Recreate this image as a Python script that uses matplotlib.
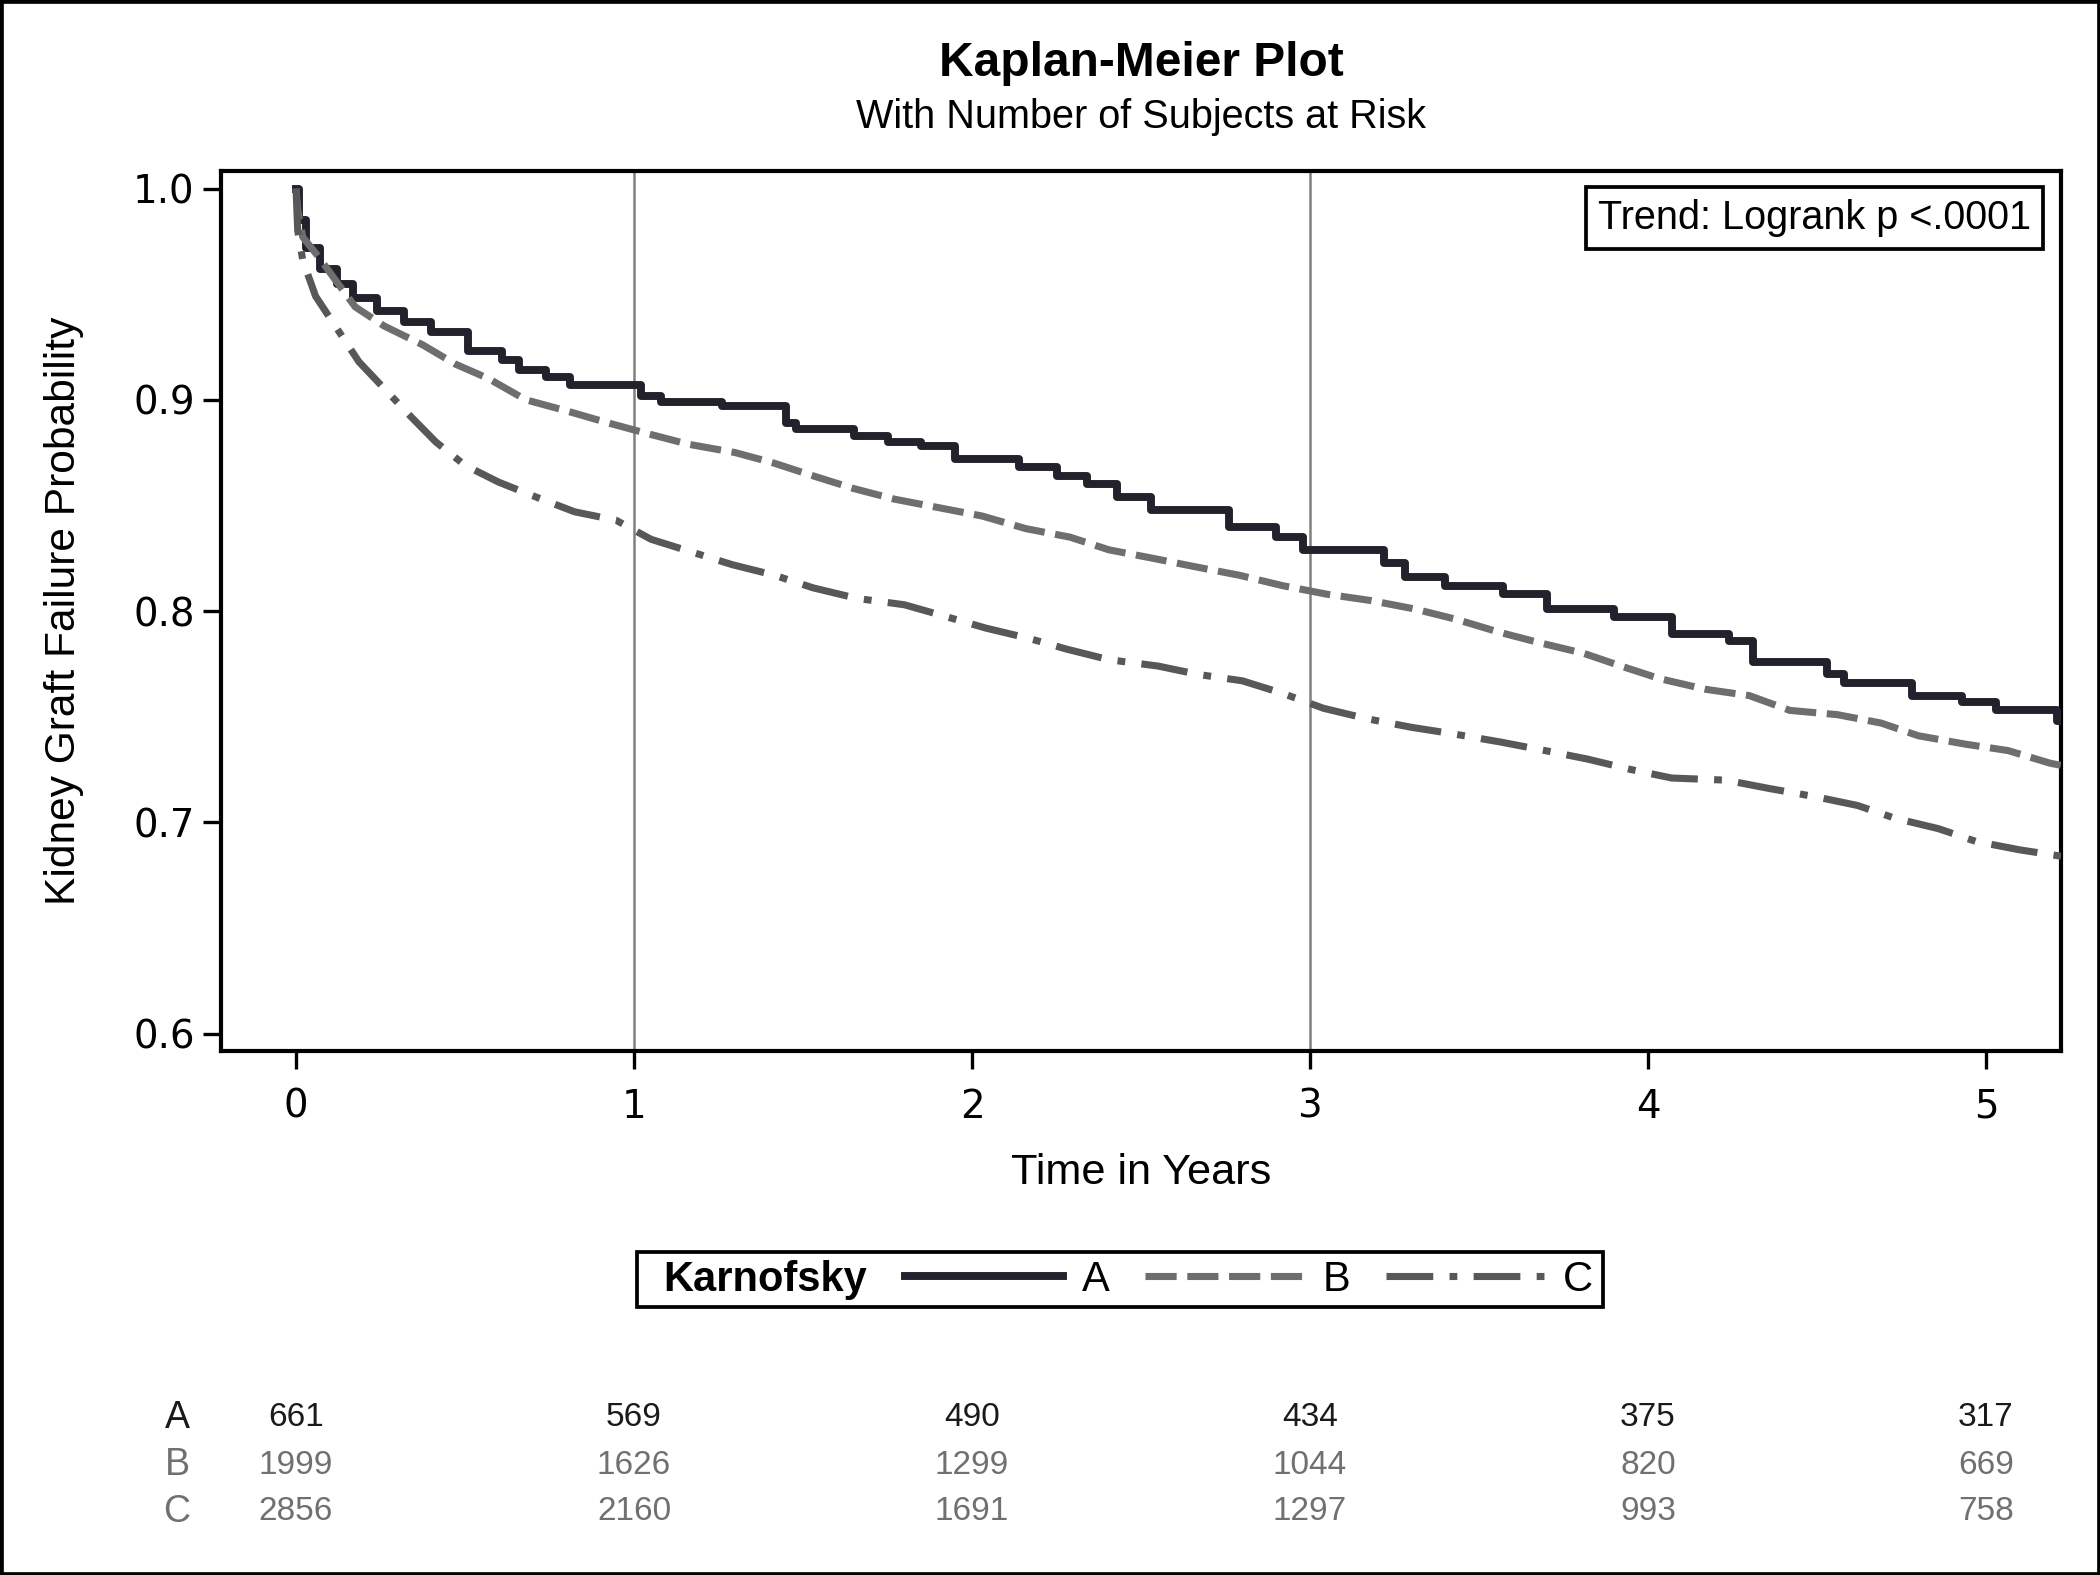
import matplotlib
matplotlib.use("Agg")
import matplotlib.pyplot as plt
from matplotlib.patches import Rectangle

# Kaplan-Meier estimates (years, probability)
a_t = [0, 0.01, 0.03, 0.07, 0.12, 0.17, 0.24, 0.32, 0.40, 0.51, 0.61, 0.66, 0.74, 0.81,
       1.02, 1.08, 1.26, 1.45, 1.48, 1.65, 1.75, 1.85, 1.95, 2.14, 2.25, 2.34, 2.43,
       2.53, 2.76, 2.90, 2.98, 3.22, 3.28, 3.40, 3.57, 3.70, 3.90, 4.07, 4.24, 4.31,
       4.53, 4.58, 4.78, 4.93, 5.03, 5.21, 5.222]
a_s = [1.0, 0.985, 0.972, 0.962, 0.955, 0.948, 0.942, 0.937, 0.932, 0.923, 0.919, 0.914,
       0.911, 0.907, 0.902, 0.899, 0.897, 0.889, 0.886, 0.883, 0.880, 0.878, 0.872, 0.868,
       0.864, 0.860, 0.854, 0.848, 0.840, 0.835, 0.829, 0.823, 0.816, 0.812, 0.808, 0.801,
       0.797, 0.789, 0.786, 0.776, 0.770, 0.766, 0.760, 0.757, 0.753, 0.748, 0.748]

b_t = [0, 0.005, 0.02, 0.07, 0.115, 0.175, 0.26, 0.375, 0.47, 0.57, 0.68, 0.795, 0.925,
       1.04, 1.16, 1.30, 1.415, 1.53, 1.65, 1.77, 1.90, 2.03, 2.16, 2.29, 2.405, 2.535,
       2.66, 2.79, 2.92, 3.05, 3.18, 3.31, 3.435, 3.56, 3.68, 3.81, 3.92, 4.035, 4.17,
       4.30, 4.42, 4.56, 4.69, 4.80, 4.94, 5.065, 5.19, 5.222]
b_s = [1.0, 0.99, 0.977, 0.967, 0.957, 0.944, 0.935, 0.926, 0.917, 0.910, 0.900, 0.895,
       0.889, 0.884, 0.879, 0.875, 0.870, 0.864, 0.858, 0.853, 0.849, 0.845, 0.839, 0.835,
       0.829, 0.825, 0.821, 0.817, 0.812, 0.808, 0.805, 0.801, 0.796, 0.790, 0.785, 0.780,
       0.774, 0.768, 0.763, 0.760, 0.753, 0.751, 0.747, 0.741, 0.737, 0.734, 0.728, 0.727]

c_t = [0, 0.005, 0.02, 0.058, 0.12, 0.186, 0.257, 0.34, 0.414, 0.50, 0.60, 0.71, 0.824,
       0.947, 1.05, 1.17, 1.29, 1.415, 1.53, 1.66, 1.80, 1.91, 2.04, 2.17, 2.28, 2.405,
       2.55, 2.67, 2.80, 2.92, 3.04, 3.17, 3.30, 3.42, 3.565, 3.695, 3.82, 3.95, 4.07,
       4.23, 4.36, 4.50, 4.62, 4.73, 4.86, 4.97, 5.10, 5.222]
c_s = [1.0, 0.98, 0.966, 0.949, 0.934, 0.918, 0.906, 0.892, 0.880, 0.869, 0.861, 0.854,
       0.847, 0.843, 0.834, 0.828, 0.822, 0.817, 0.811, 0.806, 0.803, 0.798, 0.792, 0.787,
       0.782, 0.777, 0.774, 0.770, 0.767, 0.761, 0.754, 0.749, 0.745, 0.742, 0.738, 0.734,
       0.730, 0.725, 0.721, 0.720, 0.716, 0.712, 0.708, 0.702, 0.697, 0.691, 0.687, 0.684]

groups = ["A", "B", "C"]
risk_times = [0, 1, 2, 3, 4, 5]
risk_a = [661, 569, 490, 434, 375, 317]
risk_b = [1999, 1626, 1299, 1044, 820, 669]
risk_c = [2856, 2160, 1691, 1297, 993, 758]

sans = "Liberation Sans"
col_a, col_b, col_c = "#22222c", "#6e6e6e", "#585858"

fig = plt.figure(figsize=(7, 5.25), dpi=300)
ax = fig.add_axes([0.10524, 0.33270, 0.87619, 0.55873])

ax.axvline(1, color="#808080", lw=0.6, zorder=1)
ax.axvline(3, color="#808080", lw=0.6, zorder=1)

la, = ax.plot(a_t, a_s, drawstyle="steps-post", color=col_a, lw=1.9, zorder=3)
lb, = ax.plot(b_t, b_s, color=col_b, lw=1.7, dashes=(4.4, 1.5), zorder=4)
lc, = ax.plot(c_t, c_s, color=col_c, lw=1.7, dashes=(6.6, 2.3, 1.1, 2.3), zorder=4)

ax.set_xlim(-0.222, 5.222)
ax.set_ylim(0.5918, 1.0083)
ax.set_xticks(range(6))
ax.set_yticks([0.6, 0.7, 0.8, 0.9, 1.0])
ax.set_yticklabels(["0.6", "0.7", "0.8", "0.9", "1.0"])
ax.tick_params(length=4.3, width=0.8, labelsize=9.3)
ax.tick_params(axis="x", pad=4.5)
ax.tick_params(axis="y", pad=2)
for lab in ax.get_xticklabels() + ax.get_yticklabels():
    lab.set_family("DejaVu Sans")
for sp in ax.spines.values():
    sp.set_linewidth(1.0)

ax.text(0.866, 0.947, "Trend: Logrank p <.0001", transform=ax.transAxes,
        ha="center", va="center", fontsize=9.5, family=sans,
        bbox=dict(boxstyle="square,pad=0.3", fc="white", ec="black", lw=0.9))

fig.text(0.5433, 0.9594, "Kaplan-Meier Plot", ha="center", va="center",
         fontsize=11.5, fontweight="bold", family=sans)
fig.text(0.5433, 0.9257, "With Number of Subjects at Risk", ha="center", va="center",
         fontsize=9.5, family=sans)
fig.text(0.5433, 0.2552, "Time in Years", ha="center", va="center", fontsize=10.4, family=sans)
fig.text(0.0305, 0.612, "Kidney Graft Failure Probability", ha="center", va="center",
         rotation=90, fontsize=10.2, family=sans)

# legend: bold group title on the left, entries after it, one frame round both
fig.text(0.3157, 0.1873, "Karnofsky", ha="left", va="center", fontsize=10,
         fontweight="bold", family=sans)
fig.legend([la, lb, lc], groups, ncol=3, loc="center left",
           bbox_to_anchor=(905 / 2100, 0.1873), frameon=False, borderpad=0,
           borderaxespad=0, handlelength=3.8, handletextpad=0.45, columnspacing=0.85,
           prop={"family": sans, "size": 10})
fig.patches.append(Rectangle((0.3033, 0.1702), 0.46, 0.0349, transform=fig.transFigure,
                             fill=False, ec="black", lw=0.9))

# number at risk table
rows = [risk_a, risk_b, risk_c]
row_y = [0.0997, 0.0698, 0.0400]
row_col = ["#1a1a1a", "#707070", "#707070"]
for g, vals, y, c in zip(groups, rows, row_y, row_col):
    fig.text(0.0843, y, g, ha="center", va="center", fontsize=9, family=sans, color=c)
    for t, n in zip(risk_times, vals):
        ax.annotate(str(n), xy=(t, y), xycoords=("data", "figure fraction"),
                    ha="center", va="center", fontsize=8, family=sans, color=c)

fig.patches.append(Rectangle((0, 0), 1, 1, transform=fig.transFigure, fill=False,
                             ec="black", lw=1.6))

fig.savefig("out.png", dpi=300)
